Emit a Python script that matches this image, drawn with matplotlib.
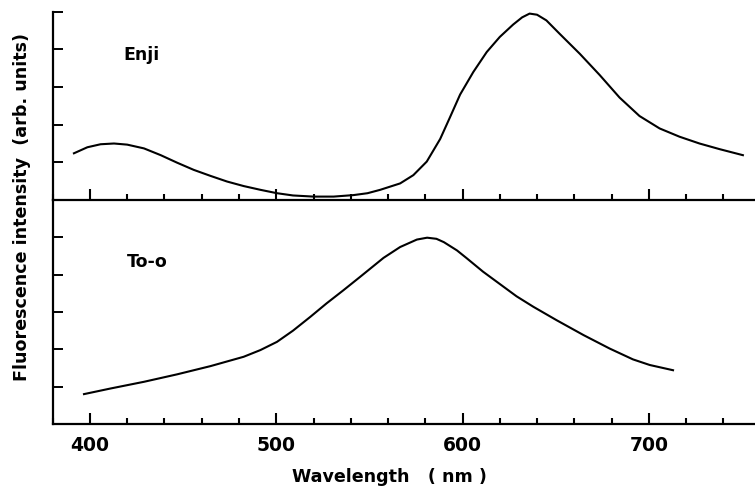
import numpy as np
import matplotlib.pyplot as plt
from matplotlib.ticker import MultipleLocator

# Enji spectrum (upper panel)
enji_wl = [391.4, 398.6, 405.7, 412.9, 420, 429, 438, 446.8, 455.7, 464.7,
           473.6, 482.5, 491.5, 500.4, 509, 520, 530.8, 541.5, 549, 555.8,
           566.5, 573.6, 580.8, 588, 593.3, 598.7, 605.8, 613, 620, 627.2,
           632, 636, 640, 645, 652, 663, 673.6, 684.3, 695, 705.8, 716.5,
           727.2, 738, 750.5]
enji_int = [1.24, 1.40, 1.48, 1.50, 1.47, 1.37, 1.19, 0.99, 0.80, 0.64,
            0.49, 0.37, 0.27, 0.18, 0.12, 0.09, 0.09, 0.13, 0.18, 0.27,
            0.44, 0.66, 1.02, 1.62, 2.20, 2.80, 3.40, 3.93, 4.33, 4.66,
            4.85, 4.95, 4.92, 4.77, 4.42, 3.88, 3.32, 2.72, 2.23, 1.90, 1.68,
            1.50, 1.35, 1.19]

# To-o spectrum (lower panel)
tooo_wl = [396.8, 411, 429, 446.8, 464.7, 482.5, 491.5, 500.4, 509, 518.3,
           527, 536, 545, 557.6, 566.5, 575.5, 581, 586, 590, 597, 602, 611,
           620, 629, 638, 650.5, 665, 679, 691.5, 700.5, 713]
tooo_int = [0.80, 0.95, 1.13, 1.33, 1.55, 1.80, 1.98, 2.20, 2.50, 2.87,
            3.23, 3.58, 3.94, 4.45, 4.74, 4.94, 4.99, 4.96, 4.87, 4.65, 4.45,
            4.08, 3.75, 3.42, 3.14, 2.78, 2.38, 2.02, 1.73, 1.58, 1.44]

xticks = [400, 500, 600, 700]

fig = plt.figure(figsize=(7.55, 4.96), dpi=100)
ax_top = fig.add_axes([0.0698, 0.5968, 0.9302, 0.3796])
ax_bot = fig.add_axes([0.0698, 0.1452, 0.9302, 0.4516])

for ax in (ax_top, ax_bot):
    ax.set_xlim(380, 757)
    ax.spines['right'].set_visible(False)
    ax.spines['top'].set_visible(False)
    ax.spines['left'].set_linewidth(1.6)
    ax.spines['bottom'].set_linewidth(1.6)
    ax.xaxis.set_major_locator(MultipleLocator(100))
    ax.xaxis.set_minor_locator(MultipleLocator(20))
    ax.tick_params(axis='x', which='major', direction='in', length=8, width=1.5)
    ax.tick_params(axis='x', which='minor', direction='in', length=4.5, width=1.5)
    ax.tick_params(axis='y', direction='in', length=7, width=1.4, labelleft=False)
    ax.patch.set_alpha(0)

ax_top.plot(enji_wl, enji_int, color='black', lw=1.5, solid_joinstyle='round')
ax_top.set_ylim(0, 5)
ax_top.set_yticks([1, 2, 3, 4, 5])
ax_top.tick_params(axis='x', labelbottom=False)
ax_top.text(418, 3.85, 'Enji', fontsize=12.5, fontweight='bold', va='center')

ax_bot.plot(tooo_wl, tooo_int, color='black', lw=1.5, solid_joinstyle='round')
ax_bot.set_ylim(0, 6)
ax_bot.set_yticks([1, 2, 3, 4, 5])
ax_bot.set_xticks(xticks)
ax_bot.set_xticklabels([str(t) for t in xticks], fontsize=13.5, fontweight='bold')
ax_bot.tick_params(axis='x', pad=9)
ax_bot.text(420, 4.33, 'To-o', fontsize=12.5, fontweight='bold', va='center')
ax_bot.set_xlabel('Wavelength   ( nm )', fontsize=12.6, fontweight='bold')
ax_bot.xaxis.set_label_coords(0.48, -0.196)

fig.text(0.0285, 0.582, 'Fluorescence intensity  (arb. units)', rotation=90,
         ha='center', va='center', fontsize=12.6, fontweight='bold')

fig.savefig('out.png', dpi=100)
